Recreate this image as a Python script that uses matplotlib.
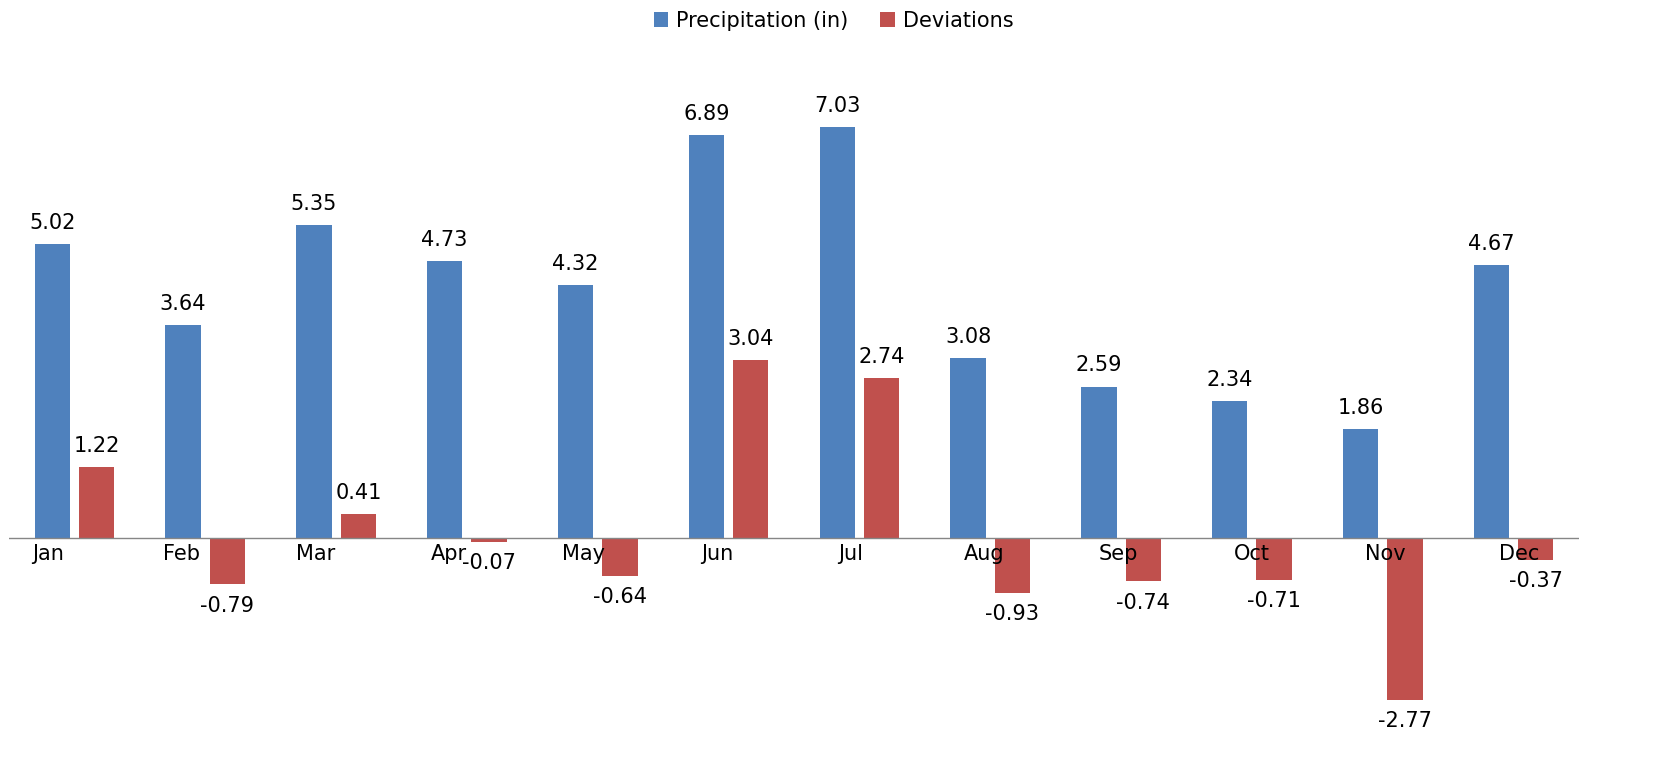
import numpy as np
import matplotlib.pyplot as plt

months = ["Jan", "Feb", "Mar", "Apr", "May", "Jun", "Jul", "Aug", "Sep", "Oct", "Nov", "Dec"]
precip = [5.02, 3.64, 5.35, 4.73, 4.32, 6.89, 7.03, 3.08, 2.59, 2.34, 1.86, 4.67]
deviations = [1.22, -0.79, 0.41, -0.07, -0.64, 3.04, 2.74, -0.93, -0.74, -0.71, -2.77, -0.37]

blue = "#4F81BD"
red = "#C0504D"

fig = plt.figure(figsize=(16.67, 7.84), dpi=100)
ax = fig.add_axes([9 / 1667, 0, 1570 / 1667, 724 / 784])

x = np.arange(len(months))
w = 0.27
off = 0.17
ax.bar(x - off, precip, w, color=blue, label="Precipitation (in)")
ax.bar(x + off, deviations, w, color=red, label="Deviations")

for xi, v in zip(x - off, precip):
    ax.annotate(f"{v:.2f}", (xi, v), xytext=(0, 8), textcoords="offset points",
                ha="center", va="bottom", fontsize=15)
for xi, v in zip(x + off, deviations):
    if v >= 0:
        ax.annotate(f"{v:.2f}", (xi, v), xytext=(0, 8), textcoords="offset points",
                    ha="center", va="bottom", fontsize=15)
    else:
        ax.annotate(f"{v:.2f}", (xi, v), xytext=(0, -8), textcoords="offset points",
                    ha="center", va="top", fontsize=15)

for xi, m in zip(x, months):
    ax.text(xi - 0.2 + xi * 0.022, -0.1, m, ha="center", va="top", fontsize=15)

ax.axhline(0, color="#868686", lw=1)
ax.set_xlim(-0.5, 11.5)
ax.set_ylim(-4.2, 8.17)
ax.axis("off")

fig.legend(loc="upper center", ncol=2, frameon=False, fontsize=15,
           bbox_to_anchor=(0.5, 1.01), handlelength=0.7, handleheight=0.7,
           columnspacing=1.5, handletextpad=0.4)

fig.savefig("out.png", dpi=100)
